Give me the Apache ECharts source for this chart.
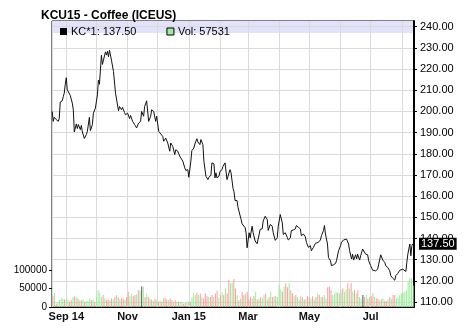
<!DOCTYPE html>
<html><head><meta charset="utf-8">
<script src="https://cdn.jsdelivr.net/npm/echarts@6/dist/echarts.min.js"></script>
<style>html,body{margin:0;padding:0;background:#fff}#c{width:465px;height:332px}</style>
</head><body><div id="c"></div>
<script>
const title = 'KCU15 - Coffee (ICEUS)';
const lastPrice = 137.50;
const lastVolume = 57531;

const dates = [
'2014-08-18','2014-08-19','2014-08-20','2014-08-22','2014-08-24','2014-08-25','2014-08-26','2014-08-28','2014-08-29','2014-08-30',
'2014-08-31','2014-09-01','2014-09-02','2014-09-03','2014-09-05','2014-09-07','2014-09-08','2014-09-09','2014-09-11','2014-09-12',
'2014-09-13','2014-09-15','2014-09-16','2014-09-17','2014-09-19','2014-09-21','2014-09-22','2014-09-24','2014-09-25','2014-09-27',
'2014-09-28','2014-09-30','2014-10-02','2014-10-03','2014-10-04','2014-10-06','2014-10-07','2014-10-08','2014-10-10','2014-10-11',
'2014-10-12','2014-10-13','2014-10-14','2014-10-16','2014-10-17','2014-10-18','2014-10-20','2014-10-21','2014-10-23','2014-10-24',
'2014-10-26','2014-10-27','2014-10-29','2014-10-30','2014-11-01','2014-11-03','2014-11-04','2014-11-06','2014-11-08','2014-11-10',
'2014-11-12','2014-11-14','2014-11-15','2014-11-17','2014-11-18','2014-11-20','2014-11-22','2014-11-24','2014-11-25','2014-11-27',
'2014-11-29','2014-11-30','2014-12-02','2014-12-03','2014-12-06','2014-12-07','2014-12-09','2014-12-11','2014-12-13','2014-12-14',
'2014-12-16','2014-12-18','2014-12-19','2014-12-21','2014-12-23','2014-12-24','2014-12-26','2014-12-28','2014-12-29','2014-12-31',
'2015-01-01','2015-01-03','2015-01-04','2015-01-06','2015-01-07','2015-01-09','2015-01-10','2015-01-12','2015-01-13','2015-01-15',
'2015-01-16','2015-01-18','2015-01-20','2015-01-21','2015-01-23','2015-01-24','2015-01-26','2015-01-27','2015-01-28','2015-01-29',
'2015-01-31','2015-02-01','2015-02-03','2015-02-04','2015-02-06','2015-02-08','2015-02-09','2015-02-11','2015-02-12','2015-02-14',
'2015-02-15','2015-02-16','2015-02-18','2015-02-19','2015-02-20','2015-02-22','2015-02-23','2015-02-24','2015-02-26','2015-02-27',
'2015-02-28','2015-03-02','2015-03-03','2015-03-05','2015-03-06','2015-03-08','2015-03-10','2015-03-11','2015-03-13','2015-03-15',
'2015-03-16','2015-03-18','2015-03-20','2015-03-21','2015-03-23','2015-03-25','2015-03-26','2015-03-28','2015-03-30','2015-03-31',
'2015-04-02','2015-04-04','2015-04-05','2015-04-07','2015-04-09','2015-04-10','2015-04-12','2015-04-13','2015-04-15','2015-04-17',
'2015-04-18','2015-04-20','2015-04-22','2015-04-23','2015-04-25','2015-04-27','2015-04-28','2015-04-30','2015-05-02','2015-05-03',
'2015-05-05','2015-05-07','2015-05-08','2015-05-10','2015-05-12','2015-05-13','2015-05-15','2015-05-16','2015-05-17','2015-05-19',
'2015-05-20','2015-05-22','2015-05-23','2015-05-25','2015-05-27','2015-05-28','2015-05-30','2015-06-01','2015-06-02','2015-06-04',
'2015-06-05','2015-06-07','2015-06-09','2015-06-10','2015-06-12','2015-06-13','2015-06-14','2015-06-16','2015-06-17','2015-06-18',
'2015-06-20','2015-06-21','2015-06-23','2015-06-24','2015-06-26','2015-06-28','2015-06-29','2015-07-01','2015-07-03','2015-07-04',
'2015-07-06','2015-07-08','2015-07-09','2015-07-11','2015-07-13','2015-07-15','2015-07-16','2015-07-18','2015-07-20','2015-07-21',
'2015-07-23','2015-07-25','2015-07-26','2015-07-28','2015-07-30','2015-07-31','2015-08-02','2015-08-03','2015-08-05','2015-08-06',
'2015-08-07','2015-08-09','2015-08-10','2015-08-11','2015-08-12'
];

const prices = [
200.0,195.3,197.2,196.1,195.3,196.6,204.4,205.0,207.0,208.6,
212.8,215.9,210.2,210.6,207.5,203.9,200.8,190.3,194.1,191.9,
193.8,191.4,193.4,190.3,187.2,189.1,190.6,197.2,190.9,193.8,
199.2,201.6,207.8,214.8,212.8,226.6,222.2,224.2,228.1,226.6,
228.4,225.8,228.9,224.2,223.4,218.8,208.6,207.8,200.3,202.3,
200.8,201.9,199.5,198.4,199.2,196.6,198.1,195.3,193.8,192.2,
194.5,195.3,200.0,197.7,202.3,205.0,195.3,197.7,200.8,200.0,
195.3,197.7,190.6,190.6,188.2,185.9,187.4,185.1,181.2,185.1,
183.5,179.6,181.9,181.2,178.8,178.0,176.5,173.3,172.1,172.5,
168.9,176.5,181.5,182.7,184.6,187.1,185.6,184.3,186.7,184.3,
176.5,169.4,167.8,168.9,169.9,175.7,175.2,168.6,171.0,168.6,
169.4,171.7,172.5,174.1,175.7,167.8,169.4,172.5,171.0,163.6,
162.0,157.9,157.9,154.5,153.7,149.0,146.9,146.3,145.1,142.7,
135.6,142.7,140.3,145.8,142.7,138.8,137.5,136.9,144.3,144.6,
148.2,150.5,149.0,143.8,146.6,145.8,142.7,139.1,140.3,145.8,
151.3,147.4,141.9,142.7,140.5,139.3,140.2,143.7,144.0,144.5,
146.1,145.3,144.5,141.3,142.1,140.8,138.2,135.8,136.6,134.2,
135.8,137.7,138.2,138.2,139.3,141.3,143.7,146.1,142.1,137.4,
131.0,129.5,127.1,127.6,128.2,129.5,134.2,136.6,138.2,139.3,
138.6,139.7,137.4,134.2,130.3,132.6,129.8,132.3,130.3,132.6,
129.8,131.8,135.0,134.5,132.6,132.3,129.5,127.1,125.0,124.4,
124.7,125.5,127.9,132.3,129.8,128.7,127.1,126.3,124.7,122.4,
121.2,120.3,122.4,123.5,125.0,124.4,125.5,124.7,124.4,128.7,
132.6,137.4,131.8,136.6,137.5
];

const volume = [
29000,38000,9000,14000,18000,25000,23000,20000,23000,20000,
14000,18000,27000,29000,27000,23000,18000,18000,20000,14000,
16000,16000,23000,18000,20000,14000,27000,45000,38000,27000,
32000,23000,18000,20000,18000,23000,20000,27000,32000,27000,
20000,23000,23000,20000,27000,41000,29000,36000,29000,32000,
34000,45000,44000,55000,56000,27000,36000,27000,23000,20000,
16000,23000,18000,14000,18000,14000,23000,25000,20000,18000,
23000,18000,14000,18000,14000,14000,14000,14000,9000,11000,
14000,14000,14000,27000,36000,32000,38000,32000,36000,27000,
23000,36000,29000,27000,27000,32000,27000,36000,44000,25000,
32000,38000,32000,50000,36000,73000,64000,65000,75000,50000,
32000,18000,23000,41000,32000,36000,41000,20000,27000,23000,
29000,41000,20000,23000,27000,23000,32000,36000,20000,27000,
41000,27000,29000,29000,27000,59000,47000,41000,55000,64000,
53000,64000,45000,36000,29000,32000,27000,20000,29000,27000,
20000,23000,29000,27000,23000,29000,20000,27000,36000,32000,
27000,27000,32000,23000,53000,55000,45000,32000,36000,41000,
38000,36000,45000,50000,41000,47000,64000,50000,64000,41000,
45000,36000,45000,27000,23000,32000,27000,32000,23000,27000,
29000,36000,27000,23000,23000,18000,20000,23000,16000,16000,
20000,27000,23000,32000,32000,23000,27000,32000,36000,38000,
41000,45000,68000,77000,77000,57531
];
// g = up day, r = down day, n = unchanged
const volDir = 'rgrggggrgg'+'rrgrgrgrgr'+'gggrgrgggg'+'rgrrgrgrgr'+'grrgrrggrr'+
  'grgngrgrgr'+'grgrgrgrrg'+'rrgrgrggrr'+'ggrgggrgrg'+'rrrgrrgrrg'+'rgrgrrgg'+'rr'+
  'grgrrgrrrg'+'rgrgrggrgr'+'grgrgggrgr'+'rgrrgrggrg'+'rgrrgrgrgr'+'grggrrrggg'+
  'rggrggrgrg'+'rgrggnrgrg'+'rrgrrgrgrr'+'grgrrggggg'+'gggggg';

const xTickDates = ['2014-09-01','2014-11-01','2015-01-01','2015-03-01','2015-05-01','2015-07-01'];
const xTickLabels = ['Sep 14','Nov','Jan 15','Mar','May','Jul'];
const priceTicks = {min:110, max:240, step:10};
const volTicks = {min:0, max:100000, step:50000};

const upColor = '#99ee99', downColor = '#ff9c9c', flatColor = '#555555';
const colorOf = c => c === 'g' ? upColor : (c === 'r' ? downColor : flatColor);

const xMin = new Date(2014,7,17,19).getTime();
const xMax = new Date(2015,7,13,3).getTime();
const pad = n => (n < 10 ? '0' : '') + n;

const chart = echarts.init(document.getElementById('c'), null, {renderer:'canvas'});
const priceName = 'KC*1: ' + lastPrice.toFixed(2);
const volName = 'Vol: ' + lastVolume;
const FONT = 'Liberation Sans, Arial, Helvetica, sans-serif';

chart.setOption({
  animation: false,
  textStyle: {fontFamily: FONT},
  title: {text: title, left: 36, top: 5, textStyle: {fontSize: 12, fontWeight: 'bold', color: '#000', fontFamily: FONT}},
  legend: {
    left: 55, top: 21, itemWidth: 7, itemHeight: 7, itemGap: 30, selectedMode: false,
    textStyle: {fontSize: 11, color: '#000', fontFamily: FONT, padding: [0,0,0,-1]},
    data: [
      {name: priceName, icon: 'rect', itemStyle: {color: '#000'}},
      {name: volName, icon: 'rect', itemStyle: {color: upColor, borderColor: '#000', borderWidth: 1}}
    ]
  },
  grid: [
    {left: 52, right: 51, top: 21, bottom: 25, show: true, borderColor: '#000', borderWidth: 1, backgroundColor: 'transparent'},
    {left: 52, right: 51, top: 26.7, bottom: 30},
    {left: 52, right: 51, top: 269.8, bottom: 25},
    {left: 52, right: 51, top: 21, height: 12, show: true, borderWidth: 0, backgroundColor: '#e2e2fa'}
  ],
  xAxis: [
    {type: 'time', gridIndex: 0, min: xMin, max: xMax, splitNumber: 12,
     minInterval: 28*864e5, maxInterval: 31*864e5,
     axisLine: {show: true, lineStyle: {color: '#000', width: 1}},
     axisTick: {show: false},
     splitLine: {show: true, lineStyle: {color: '#dadada', width: 1}},
     axisLabel: {show: true, margin: 4, fontSize: 11, fontWeight: 'bold', color: '#111', hideOverlap: false,
       formatter: function (v) {
         const d = new Date(v);
         const key = d.getFullYear() + '-' + pad(d.getMonth()+1) + '-' + pad(d.getDate());
         const i = xTickDates.indexOf(key);
         return i >= 0 ? xTickLabels[i] : '';
       }}},
    {type: 'time', gridIndex: 1, min: xMin, max: xMax, show: false},
    {type: 'category', gridIndex: 2, data: volume.map((v, i) => i), show: false},
    {type: 'value', gridIndex: 3, min: 0, max: 1, show: false}
  ],
  yAxis: [
    {type: 'value', gridIndex: 0, position: 'right', min: 0, max: 1,
     axisLine: {show: true, lineStyle: {color: '#000', width: 2}}, axisTick: {show: false},
     axisLabel: {show: false}, splitLine: {show: false}},
    {type: 'value', gridIndex: 1, position: 'right', min: priceTicks.min, max: priceTicks.max, interval: priceTicks.step,
     axisLine: {show: false}, axisTick: {show: true, length: 3, lineStyle: {color: '#000'}},
     axisLabel: {margin: 6, fontSize: 11, color: '#000', formatter: v => v.toFixed(2)},
     splitLine: {show: true, lineStyle: {color: '#dadada', width: 1}}},
    {type: 'value', gridIndex: 2, position: 'left', min: volTicks.min, max: volTicks.max, interval: volTicks.step,
     axisLine: {show: false}, axisTick: {show: true, length: 3, lineStyle: {color: '#000'}},
     axisLabel: {margin: 5, fontSize: 10, color: '#000', formatter: v => String(v)},
     splitLine: {show: false}},
    {type: 'value', gridIndex: 3, min: 0, max: 1, show: false}
  ],
  series: [
    {name: volName, type: 'bar', xAxisIndex: 2, yAxisIndex: 2, barWidth: 1, barGap: '0%',
     itemStyle: {color: upColor},
     data: volume.map((v, i) => ({value: v, itemStyle: {color: colorOf(volDir[i])}}))},
    {name: priceName, type: 'line', xAxisIndex: 1, yAxisIndex: 1, symbol: 'none', z: 5,
     lineStyle: {color: '#111', width: 1}, itemStyle: {color: '#000'},
     data: prices.map((p, i) => [dates[i], p]),
     markLine: {symbol: 'none', silent: true, animation: false, z: 10,
       lineStyle: {color: 'rgba(0,0,0,0)', width: 1, type: 'solid'},
       label: {show: true, position: 'end', distance: 5, formatter: lastPrice.toFixed(2), color: '#fff', backgroundColor: '#000',
               fontSize: 11, padding: [1, 2, 0, 2], fontFamily: FONT},
       data: [{yAxis: lastPrice}]}}
  ]
});
</script></body></html>
